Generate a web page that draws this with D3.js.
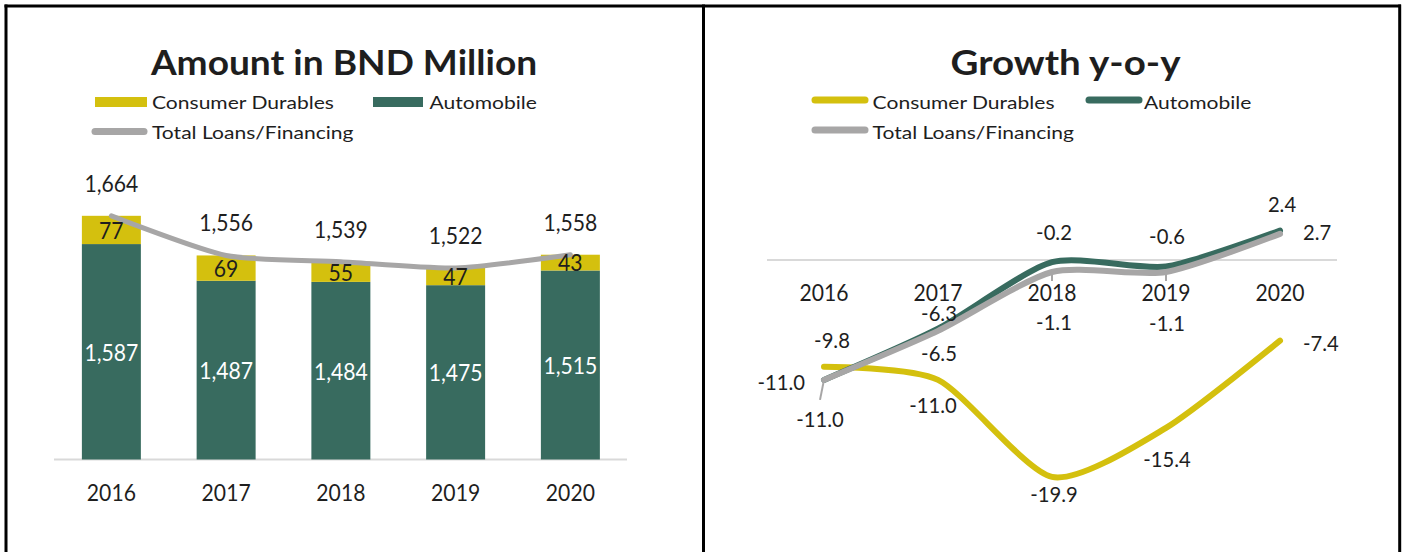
<!DOCTYPE html>
<html>
<head>
<meta charset="utf-8">
<script src="https://cdn.jsdelivr.net/npm/d3@7/dist/d3.min.js"></script>
<style>
  html, body { margin: 0; padding: 0; background: #fff; }
  svg { display: block; }
  text { font-family: Lato, "Noto Sans", sans-serif; fill: #1e1e1e; }
</style>
</head>
<body>
<svg id="chart" width="1403" height="552"></svg>
<script>
// ---- data ----
const years = ["2016", "2017", "2018", "2019", "2020"];

// Amount in BND million
const automobileAmt = [1587, 1487, 1484, 1475, 1515];
const consumerDurablesAmt = [77, 69, 55, 47, 43];
const totalLoansAmt = [1664, 1556, 1539, 1522, 1558];

// Growth y-o-y (%)
const consumerDurablesGrowth = [-9.8, -11.0, -19.9, -15.4, -7.4];
const automobileGrowth = [-11.0, -6.3, -0.2, -0.6, 2.7];
const totalLoansGrowth = [-11.0, -6.5, -1.1, -1.1, 2.4];

const seriesNames = ["Consumer Durables", "Automobile", "Total Loans/Financing"];

// ---- styling ----
const COL_YELLOW = "#d4c00e";
const COL_GREEN = "#386b5f";
const COL_GRAY = "#a7a6a6";
const COL_AXIS = "#d9d9d9";
const SX = 0.92;      // horizontal squeeze for value / category labels
const SX_LEG = 1.17;  // horizontal stretch for legend entries

const svg = d3.select("#chart");

// text helper: draws text at (x, y) scaled horizontally by sx
function label(g, x, y, str, opts = {}) {
  const t = g.append("text")
    .attr("transform", `translate(${x},${y}) scale(${opts.sx ?? SX},1)`)
    .attr("text-anchor", opts.anchor || "middle")
    .attr("dominant-baseline", opts.baseline || "central")
    .style("font-size", (opts.size || 23) + "px")
    .text(str);
  if (opts.weight) t.style("font-weight", opts.weight);
  if (opts.fill) t.style("fill", opts.fill);
  return t;
}

const fmt = d3.format(",");
const fmt1 = v => v.toFixed(1);

// ---- frame ----
const frame = svg.append("g").attr("stroke", "#000").attr("stroke-width", 3);
frame.append("line").attr("x1", 4.5).attr("x2", 1401).attr("y1", 6).attr("y2", 6);
[6, 703.5, 1399.7].forEach(x =>
  frame.append("line").attr("x1", x).attr("x2", x).attr("y1", 4.5).attr("y2", 552));

// ================= Left panel: stacked bars =================
const left = svg.append("g");

label(left, 344, 75, "Amount in BND Million",
  { size: 35, weight: 700, baseline: "alphabetic", sx: 1.06 });

// legend
const legL = left.append("g");
legL.append("rect").attr("x", 95).attr("y", 97).attr("width", 52).attr("height", 10).attr("fill", COL_YELLOW);
label(legL, 152, 109, seriesNames[0], { anchor: "start", baseline: "alphabetic", size: 18, sx: SX_LEG });
legL.append("rect").attr("x", 373).attr("y", 97).attr("width", 50).attr("height", 10).attr("fill", COL_GREEN);
label(legL, 429.5, 109, seriesNames[1], { anchor: "start", baseline: "alphabetic", size: 18, sx: SX_LEG });
legL.append("line").attr("x1", 95).attr("x2", 144).attr("y1", 131.5).attr("y2", 131.5)
  .attr("stroke", COL_GRAY).attr("stroke-width", 7).attr("stroke-linecap", "round");
label(legL, 152, 138.5, seriesNames[2], { anchor: "start", baseline: "alphabetic", size: 18, sx: SX_LEG });

const xL = d3.scaleBand().domain(years).range([54, 627.75]).paddingInner(0.486).paddingOuter(0.243);
const yL = d3.scaleLinear().domain([1000, 1800]).range([459.5, 165.9]);

left.append("line").attr("x1", 54).attr("x2", 627).attr("y1", yL(1000)).attr("y2", yL(1000))
  .attr("stroke", COL_AXIS).attr("stroke-width", 2);

const barData = years.map((yr, i) => ({
  yr, auto: automobileAmt[i], cd: consumerDurablesAmt[i], total: totalLoansAmt[i]
}));

left.selectAll("rect.auto").data(barData).join("rect")
  .attr("class", "auto")
  .attr("x", d => xL(d.yr)).attr("width", xL.bandwidth())
  .attr("y", d => yL(d.auto)).attr("height", d => yL(1000) - yL(d.auto))
  .attr("fill", COL_GREEN);

left.selectAll("rect.cd").data(barData).join("rect")
  .attr("class", "cd")
  .attr("x", d => xL(d.yr)).attr("width", xL.bandwidth())
  .attr("y", d => yL(d.auto + d.cd)).attr("height", d => yL(d.auto) - yL(d.auto + d.cd))
  .attr("fill", COL_YELLOW);

const cx = d => xL(d.yr) + xL.bandwidth() / 2;

// total line
const totalLine = d3.line().x(cx).y(d => yL(d.total)).curve(d3.curveCardinal.tension(0.3));
left.append("path").datum(barData).attr("d", totalLine)
  .attr("fill", "none").attr("stroke", COL_GRAY).attr("stroke-width", 5).attr("stroke-linecap", "round");

// value labels
barData.forEach(d => {
  label(left, cx(d), (yL(d.auto) + yL(1000)) / 2, fmt(d.auto), { fill: "#fff" });
  label(left, cx(d), (yL(d.auto) + yL(d.auto + d.cd)) / 2, fmt(d.cd));
  label(left, cx(d), yL(d.total) - 33, fmt(d.total));
  label(left, cx(d), 492, d.yr);
});

// ================= Right panel: growth lines =================
const right = svg.append("g");

label(right, 1065.5, 75, "Growth y-o-y", { size: 35, weight: 700, baseline: "alphabetic", sx: 1.1 });

const legR = right.append("g");
[[812, 100, COL_YELLOW, 872.6, 109, 0], [1086, 100, COL_GREEN, 1144, 109, 1], [812, 130, COL_GRAY, 872.6, 138.5, 2]]
  .forEach(([x, y, c, tx, ty, k]) => {
    legR.append("line").attr("x1", x + 3).attr("x2", x + 53).attr("y1", y).attr("y2", y)
      .attr("stroke", c).attr("stroke-width", 7).attr("stroke-linecap", "round");
    label(legR, tx, ty, seriesNames[k], { anchor: "start", baseline: "alphabetic", size: 18, sx: SX_LEG });
  });

const xR = d3.scalePoint().domain(years).range([767, 1337]).padding(0.5);
const yR = d3.scaleLinear().domain([-25, 5]).range([532.5, 205.5]);

right.append("line").attr("x1", 767).attr("x2", 1337).attr("y1", yR(0)).attr("y2", yR(0))
  .attr("stroke", COL_AXIS).attr("stroke-width", 2);

years.forEach(yr => label(right, xR(yr), 292, yr));

const growthSeries = [
  { values: consumerDurablesGrowth, color: COL_YELLOW,
    // label placement per point: [dx, dy, anchor]
    place: [[8, -27, "middle"], [-5, 25, "middle"], [2, 17, "middle"], [1, 31, "middle"], [23, 2, "start"]] },
  { values: automobileGrowth, color: COL_GREEN,
    place: [[-19, 2, "end"], [1, -16, "middle"], [2, -31, "middle"], [1, -31, "middle"], [23, 1, "start"]] },
  { values: totalLoansGrowth, color: COL_GRAY,
    place: [[-4, 39, "middle"], [1, 22, "middle"], [2, 50, "middle"], [1, 51, "middle"], [2, -30, "middle"]] }
];

const gLine = d3.line().x((d, i) => xR(years[i])).y(d => yR(d)).curve(d3.curveCardinal.tension(0.3));

growthSeries.forEach(s => {
  right.append("path").datum(s.values).attr("d", gLine)
    .attr("fill", "none").attr("stroke", s.color).attr("stroke-width", 6)
    .attr("stroke-linecap", "round");
});

// leader lines for the lower total-loans labels
const leaders = right.append("g").attr("stroke", COL_GRAY).attr("stroke-width", 2);
[[0, 20], [2, 9], [3, 9]].forEach(([i, len]) => {
  const x = xR(years[i]), y = yR(totalLoansGrowth[i]);
  leaders.append("line").attr("x1", x).attr("y1", y).attr("x2", x - (i === 0 ? 4 : 0)).attr("y2", y + len);
});

growthSeries.forEach(s => {
  s.values.forEach((v, i) => {
    const [dx, dy, anchor] = s.place[i];
    label(right, xR(years[i]) + dx, yR(v) + dy, fmt1(v), { anchor, size: 22 });
  });
});
</script>
</body>
</html>
